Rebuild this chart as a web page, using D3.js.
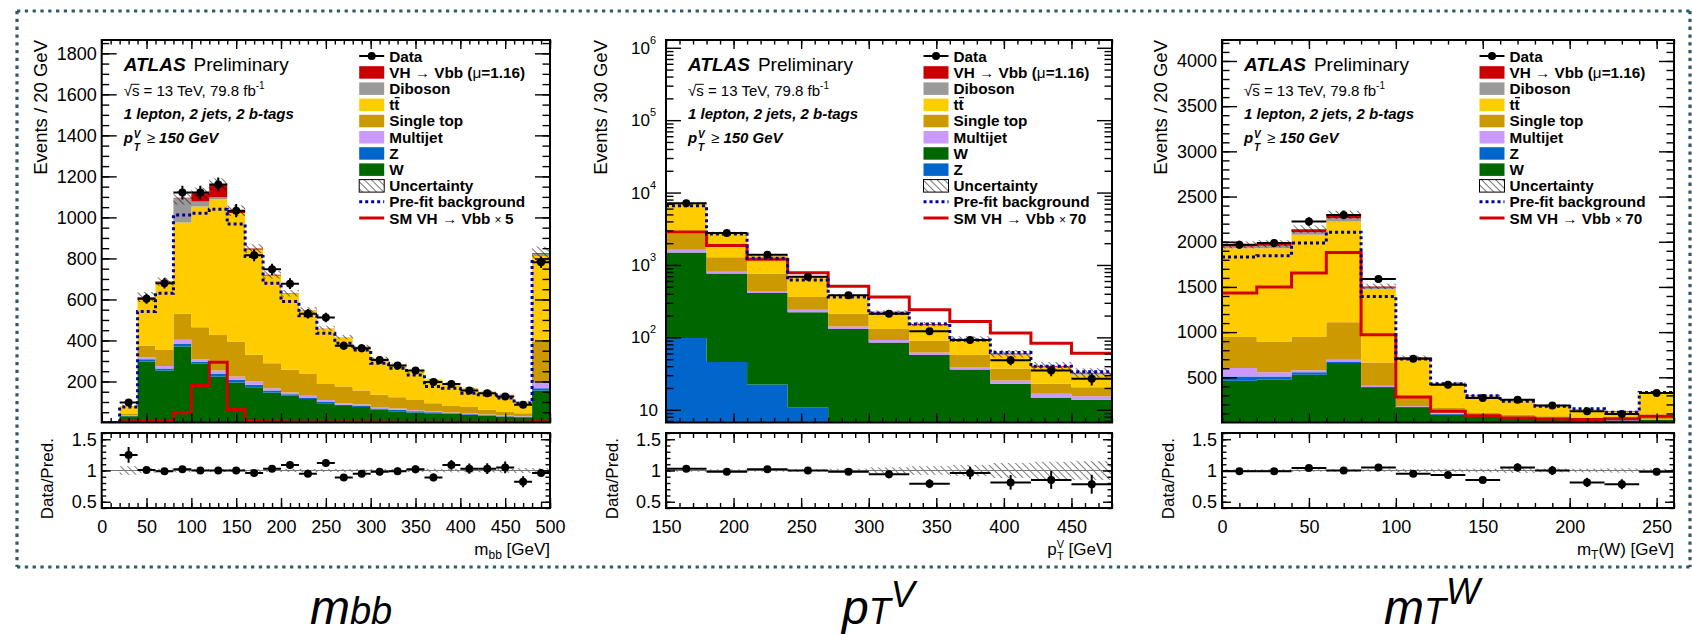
<!DOCTYPE html>
<html>
<head>
<meta charset="utf-8">
<script src="https://cdn.jsdelivr.net/npm/d3@7"></script>
<style>
body { margin: 0; background: #fff; }
</style>
</head>
<body>
<div id="chart-area"></div>
<script>
let width = 1692,
    height = 634;
const FONT = "Liberation Sans, Arial, Helvetica, sans-serif";

// ---- m_bb panel (20 GeV bins, last bin = overflow)
let mbbEdges = [0,20,40,60,80,100,120,140,160,180,200,220,240,260,280,300,320,340,360,380,400,420,440,460,480,500];
let mbbW    = [0,30,297,253,370,286,224,195,172,146,130,114,94,81,75,62,55,49,45,41,37,32,29,26,156];
let mbbZ    = [0,2,12,10,13,10,13,13,12,10,8,8,8,6,6,6,7,6,5,4,3,3,2,2,11];
let mbbMJ   = [0,2,9,13,20,13,16,16,16,11,8,8,8,7,7,7,6,5,5,4,4,4,3,3,28];
let mbbStop = [0,8,57,78,127,156,174,171,130,122,111,107,78,81,68,60,55,50,39,32,31,23,20,14,200];
let mbbTT   = [0,38,231,328,445,588,661,625,511,426,370,310,270,239,212,177,157,138,113,110,91,88,80,56,417];
let mbbDib  = [0,1,4,3,118,24,10,2,2,2,2,2,2,2,2,1,1,1,1,1,1,1,1,1,10];
let mbbVH   = [0,0,2,2,3,41,63,11,5,3,1,0,0,0,0,0,0,0,0,0,0,0,0,0,3];
let mbbData = [0,97,603,679,1121,1121,1161,1033,815,747,677,530,512,374,362,305,278,253,197,188,156,143,127,86,781];
let mbbPrefit = [0,75,541,630,1012,1020,1040,968,809,679,590,520,435,387,354,289,265,232,175,167,143,135,119,94,785];
let mbbSM   = [0,4,5,6,47,180,294,63,6,4,3,3,2,2,2,2,1,1,1,1,1,1,1,1,4];
let mbbRatio = [0,1.25,1.01,0.99,1.02,1.0,1.0,1.0,0.96,1.03,1.09,0.95,1.12,0.89,0.95,0.98,0.99,1.02,0.89,1.09,1.03,1.03,1.05,0.82,0.96];
let mbbUnc  = [0.05,0.07,0.04,0.03,0.03,0.025,0.025,0.025,0.025,0.025,0.025,0.025,0.025,0.025,0.025,0.025,0.025,0.025,0.03,0.03,0.03,0.03,0.035,0.04,0.04];
let mbbYTicks = [200,400,600,800,1000,1200,1400,1600,1800];
let mbbXTicks = [0,50,100,150,200,250,300,350,400,450,500];

// ---- pTV panel (30 GeV bins, log scale)
let ptvEdges = [150,180,210,240,270,300,330,360,390,420,450,480];
let ptvZ    = [98,45.7,22.3,10.8,4,2,1.5,1,0.8,0.5,0.4];
let ptvW    = [1388,719,389,212,127,83,55.5,35,22,14,13.4];
let ptvMJ   = [134,42,27,17,10,7,5,3,2.6,2.1,1.6];
let ptvStop = [1060,473,327,121,71,39,28,18,11.5,6.2,5.1];
let ptvTT   = [4320,1490,555,312,164,88,56,35,20,15.2,10.3];
let ptvDib  = [120,30,15,8,5,3,3,1.5,1.5,1,0.9];
let ptvVH   = [80,26,10,6,4,3,4,1.5,1.5,1,0.8];
let ptvData = [7100,2770,1380,685,381,212,121,92,48.3,35,26.8];
let ptvPrefit = [6550,2680,1240,618,361,216,153,92,62,40,33.6];
let ptvSM   = [2860,1862,1200,781,509,361,240,166,115,83,60.4];
let ptvRatio = [1.03,0.98,1.02,1.0,0.98,0.94,0.79,0.96,0.81,0.85,0.78];
let ptvUnc  = [0.02,0.02,0.02,0.02,0.03,0.05,0.07,0.09,0.12,0.14,0.15];
let ptvYTicks = [10,100,1000,10000,100000,1000000];
let ptvXTicks = [150,200,250,300,350,400,450];

// ---- mT(W) panel (20 GeV bins)
let mtwEdges = [0,20,40,60,80,100,120,140,160,180,200,220,240,260];
let mtwW    = [463,473,529,658,381,161,87,61,45,35,28,22,30];
let mtwZ    = [47,37,26,18,11,11,10,6,5,4,3,3,4];
let mtwMJ   = [92,45,22,19,15,7,16,6,5,4,3,3,6];
let mtwStop = [343,342,368,413,258,92,48,33,32,26,16,20,47];
let mtwTT   = [984,1032,1132,1116,811,442,269,184,147,110,85,68,239];
let mtwDib  = [18,26,29,37,14,5,4,4,4,4,3,3,3];
let mtwVH   = [19,22,33,37,16,6,3,3,4,4,4,5,4];
let mtwData = [1966,1985,2224,2297,1587,706,418,271,253,187,124,95,326];
let mtwPrefit = [1830,1845,1985,2106,1395,702,430,297,234,179,153,113,333];
let mtwSM   = [1432,1498,1653,1881,971,282,124,76,50,39,32,42,69];
let mtwRatio = [0.99,0.99,1.04,1.0,1.05,0.95,0.93,0.85,1.05,1.0,0.81,0.78,0.98];
let mtwUnc  = [0.02,0.02,0.02,0.02,0.02,0.025,0.03,0.03,0.04,0.03,0.03,0.035,0.03];
let mtwYTicks = [500,1000,1500,2000,2500,3000,3500,4000];
let mtwXTicks = [0,50,100,150,200,250];

let colors = {
  VH: "#c80000", Diboson: "#999999", tt: "#ffcc00", stop: "#cc9900",
  MJ: "#cc99ff", Z: "#0066cc", W: "#006600"
};

const mainTop = 40, mainBottom = 422.5, ratioTop = 433, ratioBottom = 508;

let svg = d3.select("#chart-area").append("svg")
    .attr("width", width)
    .attr("height", height);
let defs = svg.append("defs");

function hatch(id, color, w) {
  defs.append("pattern").attr("id", id)
    .attr("patternUnits", "userSpaceOnUse")
    .attr("width", 5).attr("height", 5)
    .attr("patternTransform", "rotate(-45)")
    .append("line").attr("x1", 0).attr("y1", 0).attr("x2", 0).attr("y2", 5)
    .attr("stroke", color).attr("stroke-width", w);
}
hatch("hatch", "#000", 1.1);
hatch("hatchR", "#111", 1.1);

let panels = [
  { id: 1, left: 101.7, right: 550, edges: mbbEdges, log: false, yDomain: [0, 1865],
    yMajor: mbbYTicks, yMinor: d3.range(50, 1865, 50), xMajor: mbbXTicks, xMinorStep: 10,
    stack: [["W", mbbW], ["Z", mbbZ], ["MJ", mbbMJ], ["stop", mbbStop], ["tt", mbbTT], ["Diboson", mbbDib], ["VH", mbbVH]],
    data: mbbData, prefit: mbbPrefit, sm: mbbSM, ratio: mbbRatio, unc: mbbUnc,
    yTitle: "Events / 20 GeV", yTitleOff: 55, smFactor: "5",
    legend: ["Data", "VH", "Diboson", "tt", "stop", "MJ", "Z", "W", "Unc", "Prefit", "SM"] },
  { id: 2, left: 666, right: 1112, edges: ptvEdges, log: true, yDomain: [6.67, 1.28e6],
    yMajor: ptvYTicks, yMinor: null, xMajor: ptvXTicks, xMinorStep: 10,
    stack: [["Z", ptvZ], ["W", ptvW], ["MJ", ptvMJ], ["stop", ptvStop], ["tt", ptvTT], ["Diboson", ptvDib], ["VH", ptvVH]],
    data: ptvData, prefit: ptvPrefit, sm: ptvSM, ratio: ptvRatio, unc: ptvUnc,
    yTitle: "Events / 30 GeV", yTitleOff: 59, smFactor: "70",
    legend: ["Data", "VH", "Diboson", "tt", "stop", "MJ", "W", "Z", "Unc", "Prefit", "SM"] },
  { id: 3, left: 1222, right: 1674, edges: mtwEdges, log: false, yDomain: [0, 4232],
    yMajor: mtwYTicks, yMinor: d3.range(100, 4232, 100), xMajor: mtwXTicks, xMinorStep: 10,
    stack: [["W", mtwW], ["Z", mtwZ], ["MJ", mtwMJ], ["stop", mtwStop], ["tt", mtwTT], ["Diboson", mtwDib], ["VH", mtwVH]],
    data: mtwData, prefit: mtwPrefit, sm: mtwSM, ratio: mtwRatio, unc: mtwUnc,
    yTitle: "Events / 20 GeV", yTitleOff: 55, smFactor: "70",
    legend: ["Data", "VH", "Diboson", "tt", "stop", "MJ", "Z", "W", "Unc", "Prefit", "SM"] }
];

function ticks(gp, axis, tx, ty, size) {
  let a = gp.append("g").attr("transform", "translate(" + tx + "," + ty + ")").call(axis);
  a.select(".domain").remove();
  a.selectAll(".tick line").attr("stroke", "#000").attr("stroke-width", 1.4);
  a.selectAll(".tick text").attr("fill", "#000").attr("font-size", size || 18).attr("font-family", FONT);
  return a;
}

function drawPanel(p) {
  let x = d3.scaleLinear().domain([p.edges[0], p.edges[p.edges.length - 1]]).range([p.left, p.right]);
  let y = (p.log ? d3.scaleLog() : d3.scaleLinear()).domain(p.yDomain).range([mainBottom, mainTop]).clamp(true);
  let r = d3.scaleLinear().domain([0.4, 1.6]).range([ratioBottom, ratioTop]).clamp(true);
  let n = p.data.length, yMin = p.yDomain[0];
  let yv = v => y(Math.max(v, yMin));
  let total = d3.range(n).map(i => d3.sum(p.stack, s => s[1][i]));
  let pts = vals => p.edges.map((e, i) => ({ e: e, v: vals[Math.min(i, n - 1)] }));
  let stepLine = d3.line().curve(d3.curveStepAfter).x(d => x(d.e)).y(d => yv(d.v));

  defs.append("clipPath").attr("id", "main" + p.id).append("rect")
    .attr("x", p.left).attr("y", mainTop).attr("width", p.right - p.left).attr("height", mainBottom - mainTop);
  defs.append("clipPath").attr("id", "ratio" + p.id).append("rect")
    .attr("x", p.left).attr("y", ratioTop).attr("width", p.right - p.left).attr("height", ratioBottom - ratioTop);

  let g = svg.append("g");
  let plot = g.append("g").attr("clip-path", "url(#main" + p.id + ")");

  // stacked backgrounds + signal
  let cum = new Array(n).fill(0);
  p.stack.forEach(s => {
    let lo = cum.slice();
    cum = cum.map((c, i) => c + s[1][i]);
    let hi = cum.slice();
    let area = d3.area().curve(d3.curveStepAfter)
      .x(d => x(d.e)).y0(d => yv(d.lo)).y1(d => yv(d.hi));
    plot.append("path")
      .datum(p.edges.map((e, i) => ({ e: e, lo: lo[Math.min(i, n - 1)], hi: hi[Math.min(i, n - 1)] })))
      .attr("fill", colors[s[0]])
      .attr("d", area);
  });

  // uncertainty band
  let bins = d3.range(n).filter(i => total[i] > 0);
  plot.selectAll(".unc").data(bins).join("rect")
    .attr("x", i => x(p.edges[i]))
    .attr("width", i => x(p.edges[i + 1]) - x(p.edges[i]))
    .attr("y", i => yv(total[i] * (1 + p.unc[i])))
    .attr("height", i => yv(total[i] * (1 - p.unc[i])) - yv(total[i] * (1 + p.unc[i])))
    .attr("fill", "url(#hatch)");

  // SM signal x N
  plot.append("path").datum(pts(p.sm))
    .attr("fill", "none").attr("stroke", "#d40000").attr("stroke-width", 3)
    .attr("d", stepLine);

  // pre-fit background
  plot.append("path").datum(pts(p.prefit))
    .attr("fill", "none").attr("stroke", "#00009c").attr("stroke-width", 3)
    .attr("stroke-dasharray", "3,3")
    .attr("d", stepLine);

  // data
  let dIdx = d3.range(n).filter(i => p.data[i] > 0);
  let dg = plot.selectAll(".pt").data(dIdx).join("g").attr("stroke", "#000").attr("stroke-width", 2);
  dg.append("line")
    .attr("x1", i => x(p.edges[i])).attr("x2", i => x(p.edges[i + 1]))
    .attr("y1", i => yv(p.data[i])).attr("y2", i => yv(p.data[i]));
  dg.append("line")
    .attr("x1", i => x((p.edges[i] + p.edges[i + 1]) / 2)).attr("x2", i => x((p.edges[i] + p.edges[i + 1]) / 2))
    .attr("y1", i => yv(p.data[i] - Math.sqrt(p.data[i]))).attr("y2", i => yv(p.data[i] + Math.sqrt(p.data[i])));
  dg.append("circle")
    .attr("cx", i => x((p.edges[i] + p.edges[i + 1]) / 2)).attr("cy", i => yv(p.data[i]))
    .attr("r", 4).attr("fill", "#000").attr("stroke", "none");

  // ratio panel
  let rp = g.append("g").attr("clip-path", "url(#ratio" + p.id + ")");
  rp.selectAll(".runc").data(d3.range(n).filter(i => total[i] > 0)).join("rect")
    .attr("x", i => x(p.edges[i]))
    .attr("width", i => x(p.edges[i + 1]) - x(p.edges[i]))
    .attr("y", i => r(1 + p.unc[i]))
    .attr("height", i => r(1 - p.unc[i]) - r(1 + p.unc[i]))
    .attr("fill", "url(#hatchR)");
  rp.append("line").attr("x1", p.left).attr("x2", p.right).attr("y1", r(1)).attr("y2", r(1))
    .attr("stroke", "#777").attr("stroke-width", 1.2);
  let rIdx = d3.range(n).filter(i => p.data[i] > 0);
  let rg = rp.selectAll(".rpt").data(rIdx).join("g").attr("stroke", "#000").attr("stroke-width", 2);
  rg.append("line")
    .attr("x1", i => x(p.edges[i])).attr("x2", i => x(p.edges[i + 1]))
    .attr("y1", i => r(p.ratio[i])).attr("y2", i => r(p.ratio[i]));
  rg.append("line")
    .attr("x1", i => x((p.edges[i] + p.edges[i + 1]) / 2)).attr("x2", i => x((p.edges[i] + p.edges[i + 1]) / 2))
    .attr("y1", i => r(p.ratio[i] - p.ratio[i] / Math.sqrt(p.data[i])))
    .attr("y2", i => r(p.ratio[i] + p.ratio[i] / Math.sqrt(p.data[i])));
  rg.append("circle")
    .attr("cx", i => x((p.edges[i] + p.edges[i + 1]) / 2)).attr("cy", i => r(p.ratio[i]))
    .attr("r", 4).attr("fill", "#000").attr("stroke", "none");

  // frames
  g.append("rect").attr("x", p.left).attr("y", mainTop).attr("width", p.right - p.left).attr("height", mainBottom - mainTop)
    .attr("fill", "none").attr("stroke", "#000").attr("stroke-width", 2);
  g.append("rect").attr("x", p.left).attr("y", ratioTop).attr("width", p.right - p.left).attr("height", ratioBottom - ratioTop)
    .attr("fill", "none").attr("stroke", "#000").attr("stroke-width", 2);

  // main axes ticks
  let yMinor = p.yMinor;
  if (p.log) {
    yMinor = [];
    for (let d = 0; d <= 6; d++) for (let k = 2; k <= 9; k++) {
      let v = k * Math.pow(10, d);
      if (v >= p.yDomain[0] && v <= p.yDomain[1]) yMinor.push(v);
    }
  }
  let xMinor = d3.range(p.edges[0], p.edges[p.edges.length - 1] + 0.1, p.xMinorStep);
  ticks(g, d3.axisLeft(y).tickValues(p.yMajor).tickSize(-15).tickPadding(5)
    .tickFormat(p.log ? "" : d3.format("d")), p.left, 0);
  ticks(g, d3.axisLeft(y).tickValues(yMinor).tickSize(-7.5).tickFormat(""), p.left, 0);
  ticks(g, d3.axisRight(y).tickValues(p.yMajor).tickSize(-15).tickFormat(""), p.right, 0);
  ticks(g, d3.axisRight(y).tickValues(yMinor).tickSize(-7.5).tickFormat(""), p.right, 0);
  ticks(g, d3.axisBottom(x).tickValues(p.xMajor).tickSize(-9).tickFormat(""), 0, mainBottom);
  ticks(g, d3.axisBottom(x).tickValues(xMinor).tickSize(-4.5).tickFormat(""), 0, mainBottom);
  ticks(g, d3.axisTop(x).tickValues(p.xMajor).tickSize(-9).tickFormat(""), 0, mainTop);
  ticks(g, d3.axisTop(x).tickValues(xMinor).tickSize(-4.5).tickFormat(""), 0, mainTop);

  if (p.log) {
    let lab = g.append("g").attr("font-family", FONT).attr("fill", "#000");
    p.yMajor.forEach(v => {
      let e = Math.round(Math.log10(v));
      let t = lab.append("text").attr("x", p.left - (e === 1 ? 8 : 10)).attr("y", y(v) + 6)
        .attr("text-anchor", "end").attr("font-size", 17);
      t.append("tspan").text("10");
      if (e > 1) t.append("tspan").attr("font-size", 11).attr("dy", -10).text(e);
    });
  }

  // ratio axes ticks
  let rMinor = d3.range(0.4, 1.61, 0.1);
  ticks(g, d3.axisLeft(r).tickValues([0.5, 1, 1.5]).tickSize(-9).tickPadding(5).tickFormat(d3.format("")), p.left, 0);
  ticks(g, d3.axisLeft(r).tickValues(rMinor).tickSize(-4.5).tickFormat(""), p.left, 0);
  ticks(g, d3.axisRight(r).tickValues([0.5, 1, 1.5]).tickSize(-9).tickFormat(""), p.right, 0);
  ticks(g, d3.axisRight(r).tickValues(rMinor).tickSize(-4.5).tickFormat(""), p.right, 0);
  ticks(g, d3.axisBottom(x).tickValues(p.xMajor).tickSize(-10).tickPadding(12.7).tickFormat(d3.format("d")), 0, ratioBottom);
  ticks(g, d3.axisBottom(x).tickValues(xMinor).tickSize(-5).tickFormat(""), 0, ratioBottom);
  ticks(g, d3.axisTop(x).tickValues(p.xMajor).tickSize(-10).tickFormat(""), 0, ratioTop);
  ticks(g, d3.axisTop(x).tickValues(xMinor).tickSize(-5).tickFormat(""), 0, ratioTop);

  // axis titles
  g.append("text").attr("transform", "translate(" + (p.left - p.yTitleOff) + "," + mainTop + ") rotate(-90)")
    .attr("text-anchor", "end").attr("font-family", FONT).attr("font-size", 18.5).text(p.yTitle);
  g.append("text").attr("transform", "translate(" + (p.left - 48.5) + ",438) rotate(-90)")
    .attr("text-anchor", "end").attr("font-family", FONT).attr("font-size", 17).text("Data/Pred.");

  let xt = g.append("text").attr("x", p.right).attr("y", 555).attr("text-anchor", "end")
    .attr("font-family", FONT).attr("font-size", 17);
  if (p.id === 1) {
    xt.append("tspan").text("m");
    xt.append("tspan").attr("font-size", 12).attr("dy", 4).text("bb");
    xt.append("tspan").attr("dy", -4).text(" [GeV]");
  } else if (p.id === 2) {
    xt.append("tspan").text("p");
    xt.append("tspan").attr("font-size", 11).attr("dy", -7).text("V");
    xt.append("tspan").attr("font-size", 11).attr("dx", -7).attr("dy", 12).text("T");
    xt.append("tspan").attr("dy", -5).text(" [GeV]");
  } else {
    xt.append("tspan").text("m");
    xt.append("tspan").attr("font-size", 12).attr("dy", 4).text("T");
    xt.append("tspan").attr("dy", -4).text("(W) [GeV]");
  }

  // labels inside the plot
  let lx = p.left + 22;
  let t1 = g.append("text").attr("x", lx).attr("y", 71).attr("font-family", FONT).attr("font-size", 19);
  t1.append("tspan").attr("font-weight", "bold").attr("font-style", "italic").text("ATLAS");
  t1.append("tspan").attr("dx", 8).text("Preliminary");

  let t2 = g.append("text").attr("x", lx).attr("y", 96).attr("font-family", FONT).attr("font-size", 15);
  t2.append("tspan").text("\u221As = 13 TeV, 79.8 fb");
  t2.append("tspan").attr("font-size", 10).attr("dy", -7).text("-1");
  let sq = t2.node().getSubStringLength(0, 1);
  g.append("line").attr("x1", lx + sq - 0.5).attr("x2", lx + sq + 7.5).attr("y1", 84.3).attr("y2", 84.3)
    .attr("stroke", "#000").attr("stroke-width", 1);

  g.append("text").attr("x", lx).attr("y", 118.5).attr("font-family", FONT).attr("font-size", 15)
    .attr("font-weight", "bold").attr("font-style", "italic").text("1 lepton, 2 jets, 2 b-tags");

  let pt = g.append("g").attr("font-family", FONT).attr("font-weight", "bold").attr("font-style", "italic");
  pt.append("text").attr("x", lx).attr("y", 142.5).attr("font-size", 15).text("p");
  pt.append("text").attr("x", lx + 10).attr("y", 137.5).attr("font-size", 10).text("V");
  pt.append("text").attr("x", lx + 10).attr("y", 151).attr("font-size", 10).text("T");
  let pt2 = pt.append("text").attr("x", lx + 23).attr("y", 142.5).attr("font-size", 15);
  pt2.append("tspan").attr("font-weight", "normal").attr("font-style", "normal").text("\u2265 ");
  pt2.append("tspan").text("150 GeV");

  // legend
  let labels = {
    Data: "Data", VH: "VH \u2192 Vbb (", Diboson: "Diboson", tt: "tt", stop: "Single top",
    MJ: "Multijet", Z: "Z", W: "W", Unc: "Uncertainty", Prefit: "Pre-fit background", SM: "SM VH \u2192 Vbb "
  };
  let sx = p.left + 257.5, tx = p.left + 287.5;
  let lg = g.append("g").attr("font-family", FONT).attr("font-size", 15.3).attr("font-weight", "bold");
  p.legend.forEach((k, i) => {
    let cy = 56 + 16.2 * i;
    if (k === "Data") {
      lg.append("line").attr("x1", sx).attr("x2", sx + 25).attr("y1", cy).attr("y2", cy)
        .attr("stroke", "#000").attr("stroke-width", 2);
      lg.append("circle").attr("cx", sx + 12.5).attr("cy", cy).attr("r", 4).attr("fill", "#000");
    } else if (k === "Unc") {
      lg.append("rect").attr("x", sx).attr("y", cy - 6).attr("width", 25).attr("height", 12.5)
        .attr("fill", "url(#hatch)").attr("stroke", "#000").attr("stroke-width", 1);
    } else if (k === "Prefit") {
      lg.append("line").attr("x1", sx).attr("x2", sx + 25).attr("y1", cy).attr("y2", cy)
        .attr("stroke", "#00009c").attr("stroke-width", 3).attr("stroke-dasharray", "3,3");
    } else if (k === "SM") {
      lg.append("line").attr("x1", sx).attr("x2", sx + 25).attr("y1", cy).attr("y2", cy)
        .attr("stroke", "#d40000").attr("stroke-width", 3);
    } else {
      lg.append("rect").attr("x", sx).attr("y", cy - 6).attr("width", 25).attr("height", 12.5)
        .attr("fill", colors[k]);
    }
    let t = lg.append("text").attr("x", tx).attr("y", cy + 5.5).text(labels[k]);
    if (k === "VH") {
      t.append("tspan").attr("font-weight", "normal").text("\u03BC");
      t.append("tspan").text("=1.16)");
    }
    if (k === "SM") {
      t.append("tspan").attr("font-weight", "normal").attr("font-size", 12).text("\u00D7 ");
      t.append("tspan").text(p.smFactor);
    }
    if (k === "tt") {
      lg.append("line").attr("x1", tx + 5.5).attr("x2", tx + 10.5).attr("y1", cy - 7).attr("y2", cy - 7)
        .attr("stroke", "#000").attr("stroke-width", 1.3);
    }
  });
}

panels.forEach(drawPanel);

// dotted frame around the three plots
let border = svg.append("g").attr("stroke", "#2f5c6b").attr("stroke-width", 3.2)
  .attr("stroke-dasharray", "3.3,4.5").attr("fill", "none");
border.append("line").attr("x1", 17).attr("y1", 11).attr("x2", 1692).attr("y2", 11);
border.append("line").attr("x1", 17).attr("y1", 11).attr("x2", 17).attr("y2", 567);
border.append("line").attr("x1", 17).attr("y1", 567).attr("x2", 1692).attr("y2", 567);
border.append("line").attr("x1", 1690).attr("y1", 11).attr("x2", 1690).attr("y2", 567);

// big variable names below the plots
let big = svg.append("g").attr("font-family", FONT).attr("font-style", "italic").attr("fill", "#000");
let b1 = big.append("text").attr("x", 310).attr("y", 624);
b1.append("tspan").attr("font-size", 48).text("m");
b1.append("tspan").attr("font-size", 38).text("bb");
let b2 = big.append("text").attr("x", 842).attr("y", 624);
b2.append("tspan").attr("font-size", 48).text("p");
b2.append("tspan").attr("font-size", 36).text("T");
b2.append("tspan").attr("font-size", 36).attr("dy", -17).text("V");
let b3 = big.append("text").attr("x", 1384).attr("y", 624);
b3.append("tspan").attr("font-size", 48).text("m");
b3.append("tspan").attr("font-size", 36).text("T");
b3.append("tspan").attr("font-size", 36).attr("dy", -20).text("W");
</script>
</body>
</html>
